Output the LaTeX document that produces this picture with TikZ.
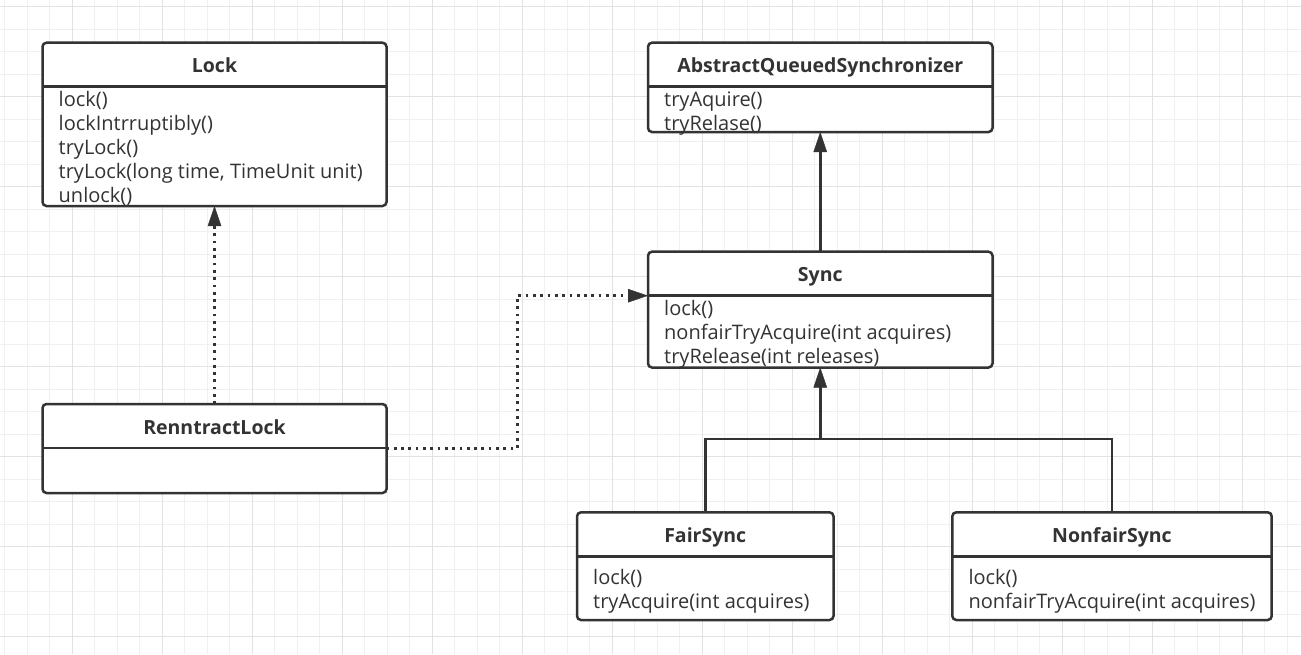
\documentclass[tikz,border=0pt]{standalone}
\usepackage{fontspec}
\setmainfont{Open Sans}
\usetikzlibrary{arrows.meta,calc}
\definecolor{ink}{HTML}{333333}
\definecolor{gridminor}{HTML}{F0F0F0}
\definecolor{gridmajor}{HTML}{E2E2E2}
\tikzset{
  classbox/.style={draw=ink, line width=2.5pt, rounded corners=4pt, fill=white, inner sep=0pt, outer sep=0pt, anchor=north west, rectangle},
  sepline/.style={draw=ink, line width=2.5pt},
  titletext/.style={font=\fontsize{19.5}{24}\selectfont\bfseries, text=ink, inner sep=0pt, anchor=base},
  methodtext/.style={font=\fontsize{20}{24}\selectfont, text=ink, inner sep=0pt, anchor=base west},
  realize/.style={draw=ink, line width=2.7pt, dash pattern=on 2.7pt off 4.6pt, -{Triangle[length=20pt,width=13.5pt,line width=0.4pt]}},
  inherit/.style={draw=ink, line width=2.8pt, -{Triangle[length=20pt,width=13.5pt,line width=0.4pt]}},
  link/.style={draw=ink, line width=2.8pt},
  minorline/.style={draw=gridminor, line width=1pt},
  majorline/.style={draw=gridmajor, line width=1pt},
}
% #1 name, #2 left, #3 top, #4 right, #5 bottom, #6 title, #7 methods, #8 first baseline below separator
\newcommand\umlclass[8]{%
  \node[classbox, minimum width={#4-#2}, minimum height={#5-#3}] (#1) at (#2,#3) {};
  \draw[sepline] ($(#1.north west)+(0,44)$) -- ($(#1.north east)+(0,44)$);
  \node[titletext] (#1-title) at ($(#1.north)+(0,30)$) {#6};
  \foreach \m [count=\k from 0] in {#7} {%
    \node[methodtext] (#1-m\k) at ($(#1.north west)+(16,{44+#8+24*\k})$) {\m};
  }%
}
\begin{document}
\begin{tikzpicture}[x=1pt,y=-1pt]
  \useasboundingbox (0,0) rectangle (1301,654);
  \fill[white] (0,0) rectangle (1301,654);
  % background grid
  \foreach \i in {0,...,57} \draw[minorline] ({4.5+22.5*\i},0) -- ({4.5+22.5*\i},654);
  \foreach \j in {0,...,28} \draw[minorline] (0,{6.7+22.5*\j}) -- (1301,{6.7+22.5*\j});
  \foreach \i in {0,...,13} \draw[majorline] ({72+90*\i},0) -- ({72+90*\i},654);
  \foreach \j in {0,...,7} \draw[majorline] (0,{6.7+90*\j}) -- (1301,{6.7+90*\j});

  % classes
  \umlclass{lock}{42.5}{42.7}{386.5}{206}{Lock}{lock(), lockIntrruptibly(), tryLock(), {tryLock(long time, TimeUnit unit)}, unlock()}{20}
  \umlclass{aqs}{648}{42.7}{992.5}{132}{AbstractQueuedSynchronizer}{tryAquire(), tryRelase()}{20}
  \umlclass{sync}{648}{251.7}{992.5}{367.5}{Sync}{lock(), nonfairTryAcquire(int acquires), tryRelease(int releases)}{20}
  \umlclass{rl}{42.5}{404}{386.5}{493}{RenntractLock}{}{20}
  \umlclass{fair}{577}{512.3}{833.5}{620}{FairSync}{lock(), tryAcquire(int acquires)}{28.5}
  \umlclass{nonfair}{952.3}{512.3}{1271.7}{620}{NonfairSync}{lock(), nonfairTryAcquire(int acquires)}{28.5}

  % connectors
  \coordinate (sync-sepw) at ($(sync.north west)+(0,44)$);
  \coordinate (joint) at ($(sync.south)+(0,71.5)$);
  \draw[realize] (rl.north) -- (lock.south);
  \draw[realize] (rl.east) -| ($(rl.east)!0.5!(sync-sepw)$) |- (sync-sepw);
  \draw[inherit] (sync.north) -- (aqs.south);
  \draw[link] (fair.north) |- (joint) -| (nonfair.north);
  \draw[inherit] (joint) -- (sync.south);
\end{tikzpicture}
\end{document}
